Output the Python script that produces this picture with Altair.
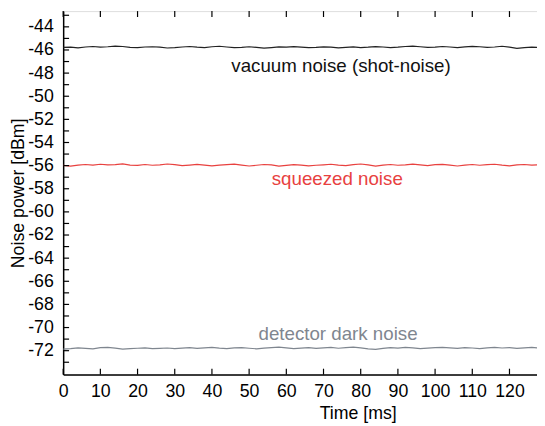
import altair as alt
import pandas as pd

# ---- data ----
time_step = 2  # ms between samples
vacuum = [-45.78,-45.75,-45.82,-45.74,-45.70,-45.76,-45.72,-45.66,-45.70,-45.78,-45.80,-45.74,-45.72,-45.76,-45.83,-45.80,-45.74,-45.70,-45.76,-45.79,-45.72,-45.68,-45.74,-45.80,-45.77,-45.72,-45.78,-45.84,-45.79,-45.73,-45.76,-45.71,-45.75,-45.80,-45.78,-45.73,-45.76,-45.82,-45.78,-45.74,-45.79,-45.76,-45.71,-45.74,-45.80,-45.76,-45.70,-45.66,-45.72,-45.78,-45.75,-45.70,-45.74,-45.79,-45.73,-45.69,-45.72,-45.78,-45.74,-45.68,-45.76,-45.86,-45.80,-45.76,-45.79]
squeezed = [-55.98,-56.05,-55.95,-55.90,-55.96,-55.88,-55.94,-55.92,-55.85,-55.95,-55.98,-55.90,-55.97,-55.93,-55.86,-55.92,-56.00,-55.95,-55.89,-55.95,-56.02,-55.96,-55.92,-55.87,-55.95,-56.03,-55.97,-55.90,-55.94,-56.04,-55.98,-55.92,-55.96,-56.02,-55.97,-55.93,-55.88,-55.95,-56.00,-55.91,-55.86,-55.94,-56.05,-55.96,-55.90,-55.97,-55.93,-55.87,-55.94,-56.00,-55.92,-55.89,-55.96,-56.03,-55.95,-55.90,-55.97,-55.92,-55.88,-55.96,-56.02,-55.94,-55.90,-55.95,-55.92]
dark = [-71.86,-71.82,-71.76,-71.80,-71.84,-71.74,-71.72,-71.78,-71.86,-71.82,-71.79,-71.76,-71.82,-71.80,-71.77,-71.82,-71.78,-71.74,-71.80,-71.76,-71.72,-71.78,-71.82,-71.76,-71.73,-71.79,-71.84,-71.78,-71.74,-71.70,-71.76,-71.82,-71.78,-71.74,-71.80,-71.76,-71.72,-71.79,-71.74,-71.70,-71.76,-71.84,-71.88,-71.80,-71.74,-71.78,-71.72,-71.76,-71.82,-71.78,-71.74,-71.71,-71.76,-71.80,-71.74,-71.77,-71.82,-71.76,-71.72,-71.77,-71.74,-71.80,-71.76,-71.72,-71.78]
series_names = ["vacuum", "squeezed", "dark"]
series_colors = ["#222222", "#e8413f", "#7f868f"]

label_texts = ["vacuum noise (shot-noise)", "squeezed noise", "detector dark noise"]
label_x = [74.7, 73.7, 73.9]
label_y = [-47.92, -57.71, -71.06]
label_colors = ["#111111", "#e8413f", "#7f868f"]

x_ticks = [0, 10, 20, 30, 40, 50, 60, 70, 80, 90, 100, 110, 120]
y_major = [-72, -70, -68, -66, -64, -62, -60, -58, -56, -54, -52, -50, -48, -46, -44]
y_minor = [-73, -71, -69, -67, -65, -63, -61, -59, -57, -55, -53, -51, -49, -47, -45, -43]

x_domain = [0, 127.4]
y_domain = [-74.07, -42.64]

W, H = 481, 369
FONT = "Liberation Sans"

rows = []
for name, vals in zip(series_names, [vacuum, squeezed, dark]):
    for i, v in enumerate(vals):
        rows.append({"t": i * time_step, "p": v, "s": name})
lines_df = pd.DataFrame(rows)
labels_df = pd.DataFrame({"text": label_texts, "x": label_x, "y": label_y, "c": label_colors})
xt_df = pd.DataFrame({"t": x_ticks})
yt_df = pd.DataFrame({"p": y_major + y_minor})

xs = alt.Scale(domain=x_domain, nice=False, zero=False)
ys = alt.Scale(domain=y_domain, nice=False, zero=False)

x_axis = alt.Axis(values=x_ticks, ticks=False, grid=False, domainColor="black", domainWidth=1.5,
                  labelFont=FONT, labelFontSize=18, labelColor="black", labelPadding=8,
                  labelOverlap=False,
                  title="Time [ms]", titleFont=FONT, titleFontSize=18, titleFontWeight="normal",
                  titleColor="black", titleX=299, titleY=45, titleBaseline="alphabetic",
                  titleAlign="center", labelFlush=False)
y_axis = alt.Axis(values=y_major, ticks=False, grid=False, domainColor="black", domainWidth=1.5,
                  labelFont=FONT, labelFontSize=18, labelColor="black", labelPadding=10,
                  labelOverlap=False,
                  labelExpr="datum.value < 0 ? '-' + abs(datum.value) : '' + datum.value",
                  title="Noise power [dBm]", titleFont=FONT, titleFontSize=18, titleFontWeight="normal",
                  titleColor="black", titleX=-40, titleBaseline="alphabetic", labelFlush=False)

lines = alt.Chart(lines_df).mark_line(strokeWidth=1.2, clip=True).encode(
    x=alt.X("t:Q", scale=xs, axis=x_axis),
    y=alt.Y("p:Q", scale=ys, axis=y_axis),
    color=alt.Color("s:N", scale=alt.Scale(domain=series_names, range=series_colors), legend=None),
)

texts = alt.Chart(labels_df).mark_text(font=FONT, fontSize=19, align="center", baseline="alphabetic").encode(
    x=alt.X("x:Q", scale=xs, axis=x_axis),
    y=alt.Y("y:Q", scale=ys, axis=y_axis),
    text="text:N",
    color=alt.Color("c:N", scale=None, legend=None),
)

xt_bottom = alt.Chart(xt_df).mark_rule(color="black", strokeWidth=1.2).encode(
    x=alt.X("t:Q", scale=xs, axis=x_axis), y=alt.value(H), y2=alt.value(H - 6))
xt_top = alt.Chart(xt_df).mark_rule(color="black", strokeWidth=1.2).encode(
    x=alt.X("t:Q", scale=xs, axis=x_axis), y=alt.value(0), y2=alt.value(6))
yt = alt.Chart(yt_df).mark_rule(color="black", strokeWidth=1.2).encode(
    y=alt.Y("p:Q", scale=ys, axis=y_axis), x=alt.value(0), x2=alt.value(6))

chart = alt.layer(lines, texts, xt_bottom, xt_top, yt).properties(
    width=W, height=H, autosize="none",
    padding={"left": 56, "top": 0, "right": 0, "bottom": 49},
).configure_view(stroke=None).configure_axis(labelOverlap=False).configure(background="white")

chart.save("out.html", embed_options={"renderer": "svg", "actions": False})
